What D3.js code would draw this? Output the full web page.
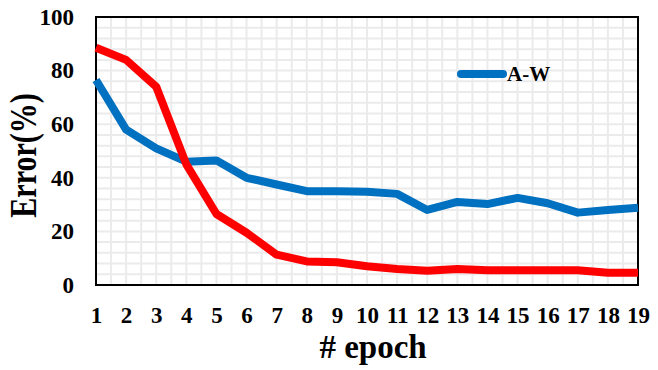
<!DOCTYPE html>
<html>
<head>
<meta charset="utf-8">
<script src="https://cdn.jsdelivr.net/npm/d3@7"></script>
<style>
  body { margin: 0; background: #fff; }
</style>
</head>
<body>
<div class="chart"></div>
<script>
// Data
const epochs = d3.range(1, 20);
const awError = [76.5, 58, 51, 46, 46.5, 40, 37.5, 35, 35, 34.8, 34, 28, 31, 30.2, 32.5, 30.5, 27, 28, 28.8];
const otherError = [88.5, 84, 74, 45, 26.5, 19.5, 11.3, 8.8, 8.5, 7, 6, 5.3, 6, 5.5, 5.5, 5.5, 5.5, 4.6, 4.6];
const yTicks = [0, 20, 40, 60, 80, 100];

const serif = "Liberation Serif";

const margin = {top: 17, right: 20, bottom: 85, left: 96},
    width = 658 - margin.left - margin.right,
    height = 370 - margin.top - margin.bottom;

const x = d3.scaleLinear().domain([1, 19]).range([0, width]);
const y = d3.scaleLinear().domain([0, 100]).range([height, 0]);

const svg = d3.select(".chart").append("svg")
    .attr("width", 658)
    .attr("height", 370)
  .append("g")
    .attr("transform", "translate(" + margin.left + "," + margin.top + ")");

// Grid: vertical every half epoch, horizontal every 4 units
const gx = d3.range(1, 19.01, 0.5);
const gy = d3.range(0, 100.01, 4);
svg.append("g").selectAll("line").data(gx).enter().append("line")
    .attr("x1", d => x(d)).attr("x2", d => x(d))
    .attr("y1", 0).attr("y2", height)
    .attr("stroke", "#ebebeb").attr("stroke-width", 2);
svg.append("g").selectAll("line").data(gy).enter().append("line")
    .attr("x1", 0).attr("x2", width)
    .attr("y1", d => y(d)).attr("y2", d => y(d))
    .attr("stroke", "#ebebeb").attr("stroke-width", 2);

// Frame
svg.append("rect")
    .attr("width", width).attr("height", height)
    .attr("fill", "none").attr("stroke", "#000").attr("stroke-width", 2);

// Axes
const xAxis = d3.axisBottom(x).tickValues(epochs).tickSize(0).tickPadding(22);
const yAxis = d3.axisLeft(y).tickValues(yTicks).tickSize(0).tickPadding(22);

function styleAxis(g) {
  g.attr("font-family", serif).attr("font-size", 23).attr("font-weight", "bold");
  g.select(".domain").remove();
  g.selectAll("text").attr("fill", "#000");
}

svg.append("g")
    .attr("transform", "translate(0," + height + ")")
    .call(xAxis)
    .call(styleAxis);

svg.append("g")
    .call(yAxis)
    .call(styleAxis);

// Lines
const line = d3.line().x((d, i) => x(epochs[i])).y(d => y(d));

svg.append("path")
    .datum(awError)
    .attr("fill", "none")
    .attr("stroke", "#0070C0")
    .attr("stroke-width", 8)
    .attr("stroke-linejoin", "round")
    .attr("d", line);

svg.append("path")
    .datum(otherError)
    .attr("fill", "none")
    .attr("stroke", "#FF0000")
    .attr("stroke-width", 8)
    .attr("stroke-linejoin", "round")
    .attr("d", line);

// Legend
svg.append("line")
    .attr("x1", 365).attr("x2", 407)
    .attr("y1", 57).attr("y2", 57)
    .attr("stroke", "#0070C0").attr("stroke-width", 8)
    .attr("stroke-linecap", "round");
svg.append("text")
    .attr("x", 411).attr("y", 64)
    .attr("font-family", serif).attr("font-weight", "bold")
    .attr("font-size", 21)
    .text("A-W");

// Axis titles
svg.append("text")
    .attr("x", width / 2 + 6)
    .attr("y", height + 73)
    .attr("text-anchor", "middle")
    .attr("font-family", serif).attr("font-weight", "bold")
    .attr("font-size", 33)
    .text("# epoch");

// y title is drawn a bit condensed in the original
svg.append("text")
    .attr("transform", "translate(" + (-60.5) + "," + (height / 2 + 4.5) + ") rotate(-90) scale(1,1.25)")
    .attr("text-anchor", "middle")
    .attr("font-family", serif).attr("font-weight", "bold")
    .attr("font-size", 30)
    .text("Error(%)");
</script>
</body>
</html>
